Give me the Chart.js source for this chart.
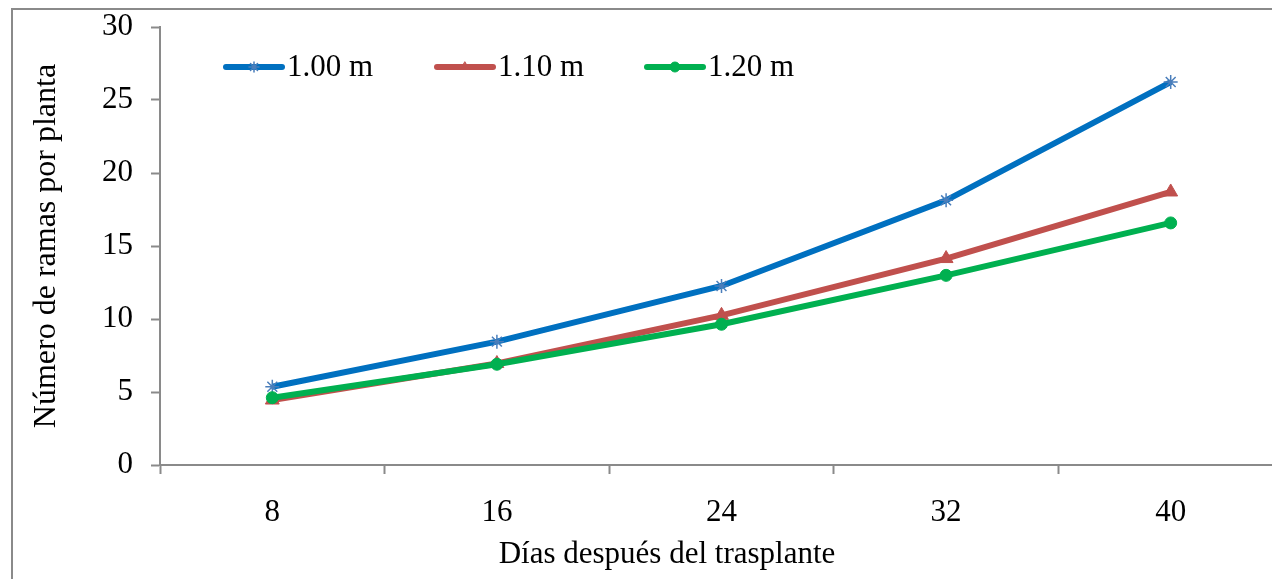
<!DOCTYPE html>
<html>
<head>
<meta charset="utf-8">
<script src="https://cdn.jsdelivr.net/npm/chart.js@4.4.1/dist/chart.umd.min.js"></script>
<style>
  html, body { margin: 0; padding: 0; background: #fff; overflow: hidden; }
  #wrap { position: absolute; left: 0; top: 0; width: 1300px; height: 579px; }
</style>
</head>
<body>
<div id="wrap"><canvas id="ramasChart" width="1300" height="579"></canvas></div>
<script>
// days after transplant
const dias = ["8", "16", "24", "32", "40"];
// branches per plant for each row spacing
const ramas100 = [5.36, 8.45, 12.26, 18.13, 26.23];
const ramas110 = [4.45, 6.95, 10.25, 14.14, 18.7];
const ramas120 = [4.61, 6.9, 9.64, 12.99, 16.58];
const yTicks = [0, 5, 10, 15, 20, 25, 30];

const FONT = "'Liberation Serif', 'Times New Roman', serif";
const FONT_SIZE = 31;
const AXIS_GREY = "#8a8a8a";

// outer frame + axis titles
const frame = {
    id: "frame",
    beforeDraw(c) {
        const ctx = c.ctx;
        ctx.save();
        ctx.strokeStyle = AXIS_GREY;
        ctx.lineWidth = 2;
        ctx.strokeRect(12, 9, 1400, 700);
        ctx.restore();
    },
    afterDraw(c) {
        const ctx = c.ctx;
        ctx.save();
        ctx.fillStyle = "#000";
        ctx.font = FONT_SIZE + "px " + FONT;
        ctx.textAlign = "center";
        ctx.textBaseline = "middle";
        ctx.fillText("Días después del trasplante", 667, 555);
        ctx.translate(47, 246);
        ctx.rotate(-Math.PI / 2);
        ctx.font = "32px " + FONT;
        ctx.fillText("Número de ramas por planta", 0, 0);
        ctx.restore();
    }
};

// legend drawn inside the plot area
const innerLegend = {
    id: "innerLegend",
    afterDraw(c) {
        const ctx = c.ctx;
        const starts = [226, 437, 647];
        const y = 67;
        ctx.save();
        c.data.datasets.forEach((ds, i) => {
            const x0 = starts[i];
            ctx.strokeStyle = ds.borderColor;
            ctx.lineWidth = 6;
            ctx.lineCap = "round";
            ctx.beginPath();
            ctx.moveTo(x0, y);
            ctx.lineTo(x0 + 56, y);
            ctx.stroke();
            ctx.fillStyle = ds.pointBackgroundColor;
            ctx.strokeStyle = ds.pointBorderColor;
            ctx.lineWidth = ds.pointStyle === "star" ? 1.5 : 1;
            Chart.helpers.drawPoint(ctx, {
                pointStyle: ds.pointStyle,
                radius: 5,
                borderWidth: ctx.lineWidth,
                rotation: 0
            }, x0 + 28, y);
            ctx.fillStyle = "#000";
            ctx.font = FONT_SIZE + "px " + FONT;
            ctx.textAlign = "left";
            ctx.textBaseline = "middle";
            ctx.fillText(ds.label, x0 + 61, y + 1);
        });
        ctx.restore();
    }
};

function series(label, data, line, mark, style, radius, order) {
    return {
        label, data, order,
        borderColor: line,
        borderWidth: 6,
        pointStyle: style,
        pointRadius: radius,
        pointBackgroundColor: mark,
        pointBorderColor: mark,
        pointBorderWidth: style === "star" ? 1.5 : 1,
        tension: 0,
        fill: false
    };
}

new Chart(document.getElementById("ramasChart"), {
    type: "line",
    data: {
        labels: dias,
        datasets: [
            series("1.00 m", ramas100, "#0070c0", "#4a7ebb", "star", 7, 2),
            series("1.10 m", ramas110, "#c0504d", "#c0504d", "triangle", 8, 1),
            series("1.20 m", ramas120, "#00b050", "#00b050", "circle", 6, 0)
        ]
    },
    options: {
        responsive: false,
        animation: false,
        layout: { padding: { left: 0, top: 27, right: 17, bottom: 0 } },
        plugins: { legend: { display: false }, tooltip: { enabled: false } },
        scales: {
            x: {
                offset: true,
                grid: {
                    offset: true,
                    drawOnChartArea: false,
                    tickLength: 9,
                    tickWidth: 2,
                    tickColor: AXIS_GREY
                },
                border: { color: AXIS_GREY, width: 2 },
                ticks: { color: "#000", font: { family: FONT, size: FONT_SIZE }, padding: 20, maxRotation: 0 },
                afterFit(s) { s.height = 114; s.paddingLeft = 0; s.paddingRight = 0; }
            },
            y: {
                min: 0,
                max: 30,
                afterBuildTicks(s) { s.ticks = yTicks.map(v => ({ value: v })); },
                grid: {
                    drawOnChartArea: false,
                    tickLength: 9,
                    tickWidth: 2,
                    tickColor: AXIS_GREY
                },
                border: { color: AXIS_GREY, width: 2 },
                ticks: { color: "#000", font: { family: FONT, size: FONT_SIZE }, padding: 18 },
                afterFit(s) { s.width = 160; s.paddingTop = 0; s.paddingBottom = 0; }
            }
        }
    },
    plugins: [frame, innerLegend]
});
</script>
</body>
</html>
